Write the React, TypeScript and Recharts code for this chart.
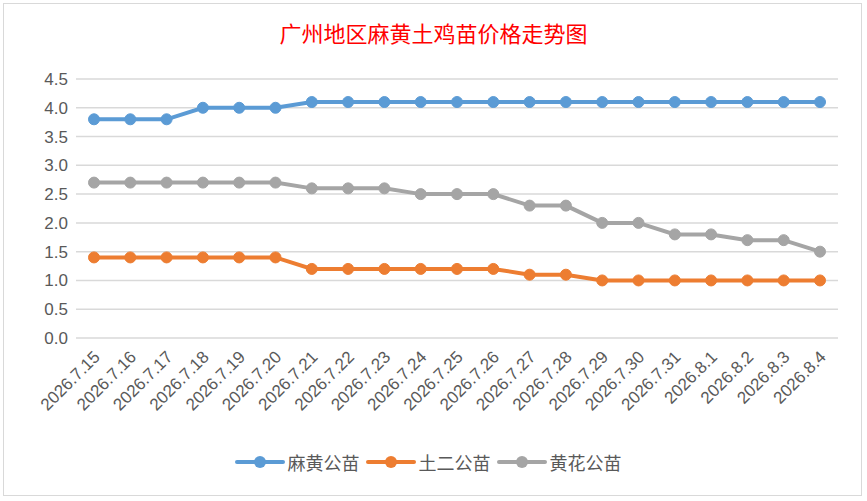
import { LineChart, Line, XAxis, YAxis, CartesianGrid, Legend } from "recharts";

const dates = [
  "2026.7.15", "2026.7.16", "2026.7.17", "2026.7.18", "2026.7.19", "2026.7.20", "2026.7.21",
  "2026.7.22", "2026.7.23", "2026.7.24", "2026.7.25", "2026.7.26", "2026.7.27", "2026.7.28",
  "2026.7.29", "2026.7.30", "2026.7.31", "2026.8.1", "2026.8.2", "2026.8.3", "2026.8.4",
];
const mahuang = [3.8, 3.8, 3.8, 4.0, 4.0, 4.0, 4.1, 4.1, 4.1, 4.1, 4.1, 4.1, 4.1, 4.1, 4.1, 4.1, 4.1, 4.1, 4.1, 4.1, 4.1];
const tuer = [1.4, 1.4, 1.4, 1.4, 1.4, 1.4, 1.2, 1.2, 1.2, 1.2, 1.2, 1.2, 1.1, 1.1, 1.0, 1.0, 1.0, 1.0, 1.0, 1.0, 1.0];
const huanghua = [2.7, 2.7, 2.7, 2.7, 2.7, 2.7, 2.6, 2.6, 2.6, 2.5, 2.5, 2.5, 2.3, 2.3, 2.0, 2.0, 1.8, 1.8, 1.7, 1.7, 1.5];
const yTicks = [0, 0.5, 1, 1.5, 2, 2.5, 3, 3.5, 4, 4.5];

const series = [
  { key: "mahuang", name: "麻黄公苗", color: "#5B9BD5" },
  { key: "tuer", name: "土二公苗", color: "#ED7D31" },
  { key: "huanghua", name: "黄花公苗", color: "#A5A5A5" },
];

const data = dates.map((d, i) => ({
  date: d,
  mahuang: mahuang[i],
  tuer: tuer[i],
  huanghua: huanghua[i],
}));

const FONT = "'Liberation Sans Narrow', 'Liberation Sans', sans-serif";

const DateTick = ({ x, y, payload }: any) => (
  <g transform={`translate(${x + 7},${y + 12})`}>
    <text
      transform="rotate(-45)"
      textAnchor="end"
      fontSize={17}
      fill="#595959"
      fontFamily={FONT}
    >
      {payload.value}
    </text>
  </g>
);

const LegendContent = () => (
  <div style={{ display: "flex", justifyContent: "center", alignItems: "center", gap: 6 }}>
    {series.map((s) => (
      <div key={s.key} style={{ display: "flex", alignItems: "center" }}>
        <svg width={50} height={16}>
          <line x1={2} y1={8} x2={48} y2={8} stroke={s.color} strokeWidth={4} strokeLinecap="round" />
          <circle cx={25} cy={8} r={6} fill={s.color} />
        </svg>
        <span style={{ fontSize: 18, color: "#595959", fontFamily: "'Noto Sans CJK SC', sans-serif", marginLeft: 3 }}>
          {s.name}
        </span>
      </div>
    ))}
  </div>
);

export default function App() {
  return (
    <div style={{ position: "absolute", left: 0, top: 0, width: 867, height: 501, background: "#fff" }}>
      <div
        style={{
          position: "absolute",
          left: 3,
          top: 3,
          width: 857,
          height: 491,
          border: "1.5px solid #d9d9d9",
        }}
      />
      <div
        style={{
          position: "absolute",
          top: 16,
          left: 0,
          width: 867,
          textAlign: "center",
          color: "#FF0000",
          fontSize: 22,
          fontFamily: "'Noto Sans CJK SC', serif",
        }}
      >
        广州地区麻黄土鸡苗价格走势图
      </div>
      <div style={{ position: "absolute", left: 0, top: 0 }}>
        <LineChart width={867} height={501} data={data} margin={{ top: 79, right: 29, bottom: 26, left: 18 }}>
          <CartesianGrid vertical={false} stroke="#d9d9d9" strokeWidth={1.5} />
          <XAxis
            dataKey="date"
            axisLine={false}
            tickLine={false}
            interval={0}
            height={111}
            padding={{ left: 18, right: 18 }}
            tick={<DateTick />}
          />
          <YAxis
            domain={[0, 4.5]}
            ticks={yTicks}
            width={58}
            axisLine={false}
            tickLine={false}
            tickFormatter={(v: number) => v.toFixed(1)}
            tick={{ fontSize: 17, fill: "#595959", fontFamily: FONT }}
          />
          <Legend verticalAlign="bottom" content={<LegendContent />} />
          {series.map((s) => (
            <Line
              key={s.key}
              dataKey={s.key}
              name={s.name}
              stroke={s.color}
              strokeWidth={4}
              dot={{ r: 5.5, fill: s.color, stroke: s.color, strokeWidth: 1 }}
              isAnimationActive={false}
            />
          ))}
        </LineChart>
      </div>
    </div>
  );
}
